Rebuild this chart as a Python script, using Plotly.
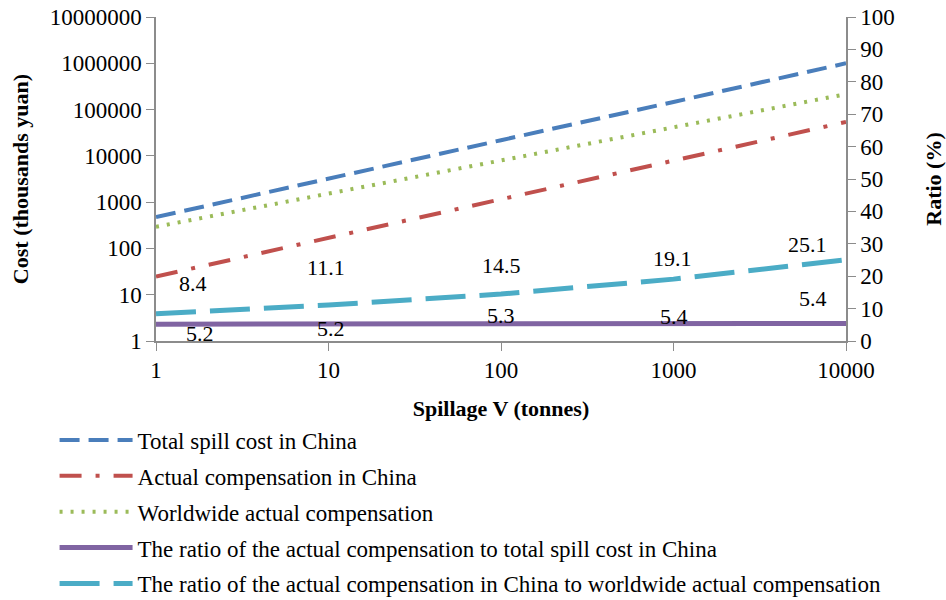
import math
import plotly.graph_objects as go

# ---- data ----
spillage = [1, 10, 100, 1000, 10000]
total_cost_china = [475, 3270, 21800, 146000, 1000000]
actual_comp_china = [24.7, 170, 1154, 7900, 54000]
worldwide_comp = [294, 1530, 7960, 41400, 215000]
ratio_actual_total = [5.2, 5.2, 5.3, 5.4, 5.4]
ratio_china_world = [8.4, 11.1, 14.5, 19.1, 25.1]

left_ticks = [1, 10, 100, 1000, 10000, 100000, 1000000, 10000000]
right_ticks = [0, 10, 20, 30, 40, 50, 60, 70, 80, 90, 100]
x_ticks = [1, 10, 100, 1000, 10000]

names = [
    "Total spill cost in China",
    "Actual compensation in China",
    "Worldwide actual compensation",
    "The ratio of the actual compensation to total spill cost in China",
    "The ratio of the actual compensation in China to worldwide actual compensation",
]

FONT = "Liberation Serif, Times New Roman, serif"
FS = 23
fig = go.Figure()

fig.add_trace(go.Scatter(x=spillage, y=total_cost_china, mode="lines", name=names[0],
                         legendgroup="a",
                         line=dict(color="#4A7EBB", width=4, dash="20px,9px")))
fig.add_trace(go.Scatter(x=spillage, y=actual_comp_china, mode="lines", name=names[1],
                         legendgroup="b",
                         line=dict(color="#C0504D", width=4, dash="22px,14px,4px,14px")))
fig.add_trace(go.Scatter(x=spillage, y=worldwide_comp, mode="lines", name=names[2],
                         legendgroup="c",
                         line=dict(color="#9BBB59", width=4, dash="3px,8px")))
fig.add_trace(go.Scatter(x=spillage, y=ratio_actual_total, mode="lines", name=names[3],
                         legendgroup="d", yaxis="y2",
                         line=dict(color="#8064A2", width=5)))
fig.add_trace(go.Scatter(x=spillage, y=ratio_china_world, mode="lines", name=names[4],
                         legendgroup="e", yaxis="y2",
                         line=dict(color="#4BACC6", width=5, dash="40px,14px")))

# data labels (pixel offsets from the data point)
r2_offsets = [(37, 30), (-3, 38), (0, 29), (-1, 21), (-39, 15)]
r1_offsets = [(44, -9), (2, -4), (0, 8), (0, 7), (-33, 25)]
anns = []
for xv, yv, (dx, dy) in zip(spillage, ratio_china_world, r2_offsets):
    anns.append(dict(x=math.log10(xv), y=yv, xref="x", yref="y2", text=f"{yv:.1f}",
                     showarrow=False, xshift=dx, yshift=dy,
                     font=dict(family=FONT, size=22, color="black")))
for xv, yv, (dx, dy) in zip(spillage, ratio_actual_total, r1_offsets):
    anns.append(dict(x=math.log10(xv), y=yv, xref="x", yref="y2", text=f"{yv:.1f}",
                     showarrow=False, xshift=dx, yshift=dy,
                     font=dict(family=FONT, size=22, color="black")))

axis_common = dict(showgrid=False, zeroline=False, showline=True, linecolor="#8C8C8C",
                   linewidth=1.5, ticks="outside", tickcolor="#8C8C8C", ticklen=8,
                   automargin=False,
                   tickfont=dict(family=FONT, size=FS, color="black"))

fig.update_layout(
    width=946, height=600,
    margin=dict(l=156, r=100, t=17, b=259, autoexpand=False),
    paper_bgcolor="white", plot_bgcolor="white",
    font=dict(family=FONT, color="black"),
    xaxis=dict(type="log", range=[0, 4], tickvals=x_ticks,
               ticktext=[str(v) for v in x_ticks],
               title=dict(text="<b>Spillage V (tonnes)</b>", font=dict(family=FONT, size=22),
                          standoff=18),
               **axis_common),
    yaxis=dict(type="log", range=[0, 7], tickvals=left_ticks,
               ticktext=[str(v) for v in left_ticks],
               title=dict(text="<b>Cost (thousands yuan)</b>", font=dict(family=FONT, size=22),
                          standoff=15),
               **axis_common),
    yaxis2=dict(overlaying="y", side="right", range=[0, 100], tickvals=right_ticks,
                title=dict(text="<b>Ratio (%)</b>", font=dict(family=FONT, size=22),
                           standoff=37),
                **axis_common),
    legend=dict(x=-0.147, xanchor="left", y=-0.239, yanchor="top",
                font=dict(family=FONT, size=FS, color="black"),
                itemwidth=73,
                tracegroupgap=3, bgcolor="rgba(0,0,0,0)"),
    annotations=anns,
    showlegend=True,
)

fig.write_html("out.html", config={"displayModeBar": False},
               post_script="document.body.style.margin='0px';document.body.style.overflow='hidden';")
